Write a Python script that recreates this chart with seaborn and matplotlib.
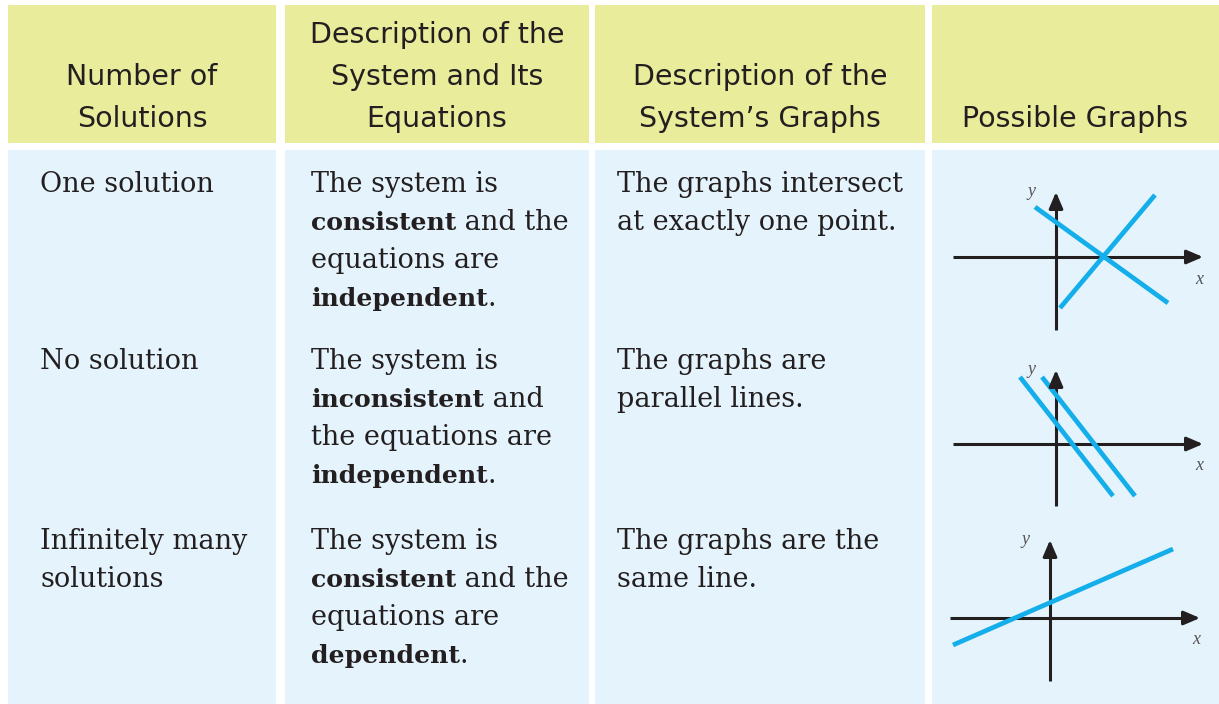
import matplotlib
matplotlib.use("Agg")
import matplotlib.pyplot as plt
import seaborn as sns
from matplotlib.patches import Rectangle

# ---------------- data ----------------
HEADERS = [
    ["Number of", "Solutions"],
    ["Description of the", "System and Its", "Equations"],
    ["Description of the", "System\u2019s Graphs"],
    ["Possible Graphs"],
]
COL_NUMBER = [["One solution"], ["No solution"], ["Infinitely many", "solutions"]]
COL_SYSTEM = [
    ["The system is", "**consistent** and the", "equations are", "**independent**."],
    ["The system is", "**inconsistent** and", "the equations are", "**independent**."],
    ["The system is", "**consistent** and the", "equations are", "**dependent**."],
]
COL_GRAPHS = [
    ["The graphs intersect", "at exactly one point."],
    ["The graphs are", "parallel lines."],
    ["The graphs are the", "same line."],
]

# mini graphs: line endpoints in local units
G1_A_X = [-2.1, 11.2]; G1_A_Y = [5.0, -4.6]
G1_B_X = [0.4, 9.9];   G1_B_Y = [-5.1, 6.2]
G2_A_X = [-3.6, 5.7];  G2_A_Y = [6.7, -5.2]
G2_B_X = [-1.4, 7.9];  G2_B_Y = [6.7, -5.2]
G3_A_X = [-9.7, 12.3]; G3_A_Y = [-2.7, 6.9]
GRAPH_LINES = [
    [(G1_A_X, G1_A_Y), (G1_B_X, G1_B_Y)],
    [(G2_A_X, G2_A_Y), (G2_B_X, G2_B_Y)],
    [(G3_A_X, G3_A_Y)],
]
# axis extents (x from, x to, y from, y to)
GRAPH_AXES = [(-10.3, 14.7, -7.3, 6.5), (-10.3, 14.7, -6.2, 7.4), (-10.0, 15.0, -6.3, 7.8)]

# ---------------- style / layout ----------------
sns.set_theme(style="white")
plt.rcParams["font.family"] = ["DejaVu Serif"]

W, H = 1219, 704
HEAD_COLOR = "#E8EC9B"
BODY_COLOR = "#E5F4FC"
LINE_BLUE = "#14AEEA"
INK = "#231F20"

COLS = [(8, 276), (285, 589), (595, 925), (932, 1219)]
HEAD_Y = (5, 143)
BODY_Y = (150, 704)
ROW_Y = [(150, 340), (340, 520), (520, 704)]
ROW_BASE = [192, 369, 549]
LINE_STEP = 38
TEXT_X = [40, 311, 617]
ORIGINS = [(1056, 257), (1056, 444), (1050, 618)]

fig = plt.figure(figsize=(W / 100, H / 100), dpi=100)
fig.patch.set_facecolor("white")
ax = fig.add_axes([0, 0, 1, 1])
ax.set_xlim(0, W)
ax.set_ylim(H, 0)
ax.axis("off")

for (x0, x1) in COLS:
    ax.add_patch(Rectangle((x0, HEAD_Y[0]), x1 - x0, HEAD_Y[1] - HEAD_Y[0], facecolor=HEAD_COLOR, edgecolor="none"))
    ax.add_patch(Rectangle((x0, BODY_Y[0]), x1 - x0, BODY_Y[1] - BODY_Y[0], facecolor=BODY_COLOR, edgecolor="none"))

# headers (bottom aligned)
HEAD_BASE = [43, 85, 127]
for (x0, x1), lines in zip(COLS, HEADERS):
    cx = (x0 + x1) / 2
    n = len(lines)
    for i, t in enumerate(lines):
        y = HEAD_BASE[3 - n + i]
        ax.text(cx, y, t, ha="center", va="baseline", fontsize=20.5, color=INK,
                family=["DejaVu Sans"])

fig.canvas.draw()
renderer = fig.canvas.get_renderer()
BODY_FS = 19.5


def draw_rich(x, y, line):
    parts = line.split("**")
    cur = x
    for k, seg in enumerate(parts):
        if not seg:
            continue
        bold = (k % 2 == 1)
        t = ax.text(cur, y, seg, ha="left", va="baseline",
                    fontsize=BODY_FS * (0.93 if bold else 1.0), color=INK,
                    fontweight="bold" if bold else "normal")
        bb = t.get_window_extent(renderer=renderer)
        cur += bb.width


for col_i, col in enumerate([COL_NUMBER, COL_SYSTEM, COL_GRAPHS]):
    for r, lines in enumerate(col):
        for j, line in enumerate(lines):
            draw_rich(TEXT_X[col_i], ROW_BASE[r] + j * LINE_STEP, line)

# mini graphs
cx0, cx1 = COLS[3]
for r in range(3):
    top, bot = ROW_Y[r]
    ox, oy = ORIGINS[r]
    iax = fig.add_axes([cx0 / W, 1 - bot / H, (cx1 - cx0) / W, (bot - top) / H])
    iax.set_xlim((cx0 - ox) / 10, (cx1 - ox) / 10)
    iax.set_ylim((oy - bot) / 10, (oy - top) / 10)
    iax.axis("off")
    iax.patch.set_alpha(0)
    xa0, xa1, ya0, ya1 = GRAPH_AXES[r]
    iax.plot([xa0, xa1 - 0.6], [0, 0], color=INK, lw=2.2, solid_capstyle="butt")
    iax.annotate("", xy=(xa1, 0), xytext=(xa1 - 1.2, 0),
                 arrowprops=dict(arrowstyle="-|>,head_length=0.7,head_width=0.3", color=INK,
                                 lw=2.2, shrinkA=0, shrinkB=0, mutation_scale=14))
    iax.plot([0, 0], [ya0, ya1 - 0.6], color=INK, lw=2.2, solid_capstyle="butt")
    iax.annotate("", xy=(0, ya1), xytext=(0, ya1 - 1.2),
                 arrowprops=dict(arrowstyle="-|>,head_length=0.7,head_width=0.3", color=INK,
                                 lw=2.2, shrinkA=0, shrinkB=0, mutation_scale=14))
    for lx, ly in GRAPH_LINES[r]:
        sns.lineplot(x=lx, y=ly, ax=iax, color=LINE_BLUE, lw=3.4, sort=False,
                     solid_capstyle="butt")
    iax.text(-2.4, ya1 + 0.1, "y", ha="center", va="center", fontsize=13, style="italic",
             color="#555555", family=["Liberation Serif", "DejaVu Serif"])
    iax.text(xa1 - 0.4, -2.2, "x", ha="center", va="center", fontsize=13, style="italic",
             color="#555555", family=["Liberation Serif", "DejaVu Serif"])
    if iax.get_legend() is not None:
        iax.get_legend().remove()

fig.savefig("out.png", dpi=100, facecolor="white")
